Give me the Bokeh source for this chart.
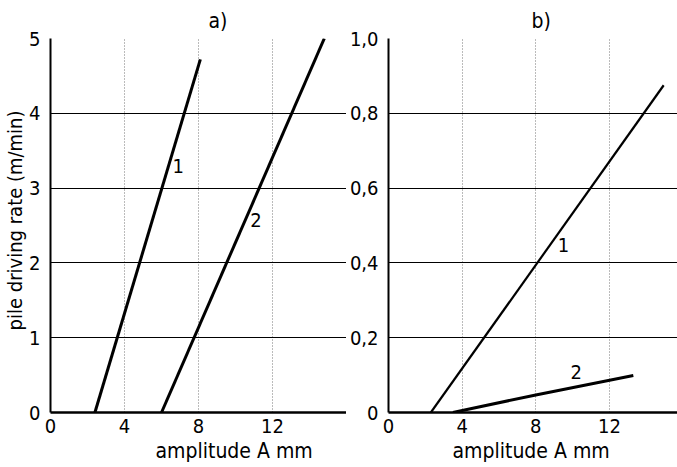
from bokeh.plotting import figure
from bokeh.layouts import row
from bokeh.models import Range1d, FixedTicker, Title
from bokeh.core.properties import value
from bokeh.embed import file_html
from bokeh.resources import INLINE

# ---- data ----
x_ticks = [0, 4, 8, 12]
a_y_ticks = [0, 1, 2, 3, 4, 5]
b_y_ticks = [0, 0.2, 0.4, 0.6, 0.8, 1.0]
b_y_labels = ["0", "0,2", "0,4", "0,6", "0,8", "1,0"]

a1_x = [2.4, 8.1]
a1_y = [0.0, 4.72]
a2_x = [6.0, 14.8]
a2_y = [0.0, 5.0]

b1_x = [2.3, 14.95]
b1_y = [0.0, 0.875]
b2_x = [3.5, 8.0, 13.3]
b2_y = [0.0, 0.047, 0.099]

a_lbl_x = [6.9, 11.1]
a_lbl_y = [3.3, 2.57]
b_lbl_x = [9.5, 10.2]
b_lbl_y = [0.447, 0.107]
lbl_text = ["1", "2"]

FONT = "DejaVu Sans Condensed, Liberation Sans"
FS = "20px"
FS_T = "21px"


def style(p, yticks, overrides=None):
    p.outline_line_color = None
    p.background_fill_color = "white"
    p.border_fill_color = "white"
    p.xaxis.ticker = FixedTicker(ticks=x_ticks)
    p.yaxis.ticker = FixedTicker(ticks=yticks)
    if overrides:
        p.yaxis.major_label_overrides = overrides
    for ax in (p.xaxis[0], p.yaxis[0]):
        ax.major_tick_line_color = None
        ax.minor_tick_line_color = None
        ax.axis_line_color = "black"
        ax.major_label_text_font = FONT
        ax.major_label_text_font_size = FS
        ax.major_label_text_color = "black"
    p.xaxis.axis_line_width = 2.5
    p.yaxis.axis_line_width = 2
    p.xaxis.major_label_standoff = 0
    p.yaxis.major_label_standoff = 4
    p.ygrid.grid_line_color = "black"
    p.ygrid.grid_line_width = 1
    p.ygrid.ticker = FixedTicker(ticks=yticks)
    p.xgrid.grid_line_color = "#777777"
    p.xgrid.grid_line_width = 1
    p.xgrid.grid_line_dash = "1 2"
    p.xgrid.ticker = FixedTicker(ticks=x_ticks)


def make_title(text, offset, standoff=8, size=FS_T):
    return Title(text=text, align="left", offset=offset, text_font=FONT,
                 text_font_size=size, text_font_style="normal",
                 text_color="black", standoff=standoff)


# ---- panel a ----
p1 = figure(width=346, height=467, output_backend="svg", toolbar_location=None,
            x_range=Range1d(0, 16), y_range=Range1d(0, 5),
            min_border_left=48, min_border_right=0, min_border_top=38,
            min_border_bottom=55)
style(p1, a_y_ticks)
p1.line(a1_x, a1_y, line_color="black", line_width=3)
p1.line(a2_x, a2_y, line_color="black", line_width=3)
p1.text(x=a_lbl_x, y=a_lbl_y, text=lbl_text, text_font=value(FONT),
        text_font_size=FS, text_align="center", text_baseline="middle",
        text_color="black")
p1.add_layout(make_title("a)", 158, 11), "above")
p1.add_layout(make_title("amplitude  A mm", 105, 2), "below")
p1.add_layout(make_title("pile driving rate (m/min)", 82, 0, "20px"), "left")

# ---- panel b ----
p2 = figure(width=331, height=467, output_backend="svg", toolbar_location=None,
            x_range=Range1d(0, 15.7), y_range=Range1d(0, 1.0),
            min_border_left=39, min_border_right=0, min_border_top=38,
            min_border_bottom=55)
style(p2, b_y_ticks, {t: l for t, l in zip(b_y_ticks, b_y_labels)})
p2.line(b1_x, b1_y, line_color="black", line_width=2.2)
p2.line(b2_x, b2_y, line_color="black", line_width=3)
p2.text(x=b_lbl_x, y=b_lbl_y, text=lbl_text, text_font=value(FONT),
        text_font_size=FS, text_align="center", text_baseline="middle",
        text_color="black")
p2.add_layout(make_title("b)", 143, 11), "above")
p2.add_layout(make_title("amplitude  A mm", 64, 2), "below")

layout = row(p1, p2)
open("out.html", "w").write(file_html(layout, INLINE))
